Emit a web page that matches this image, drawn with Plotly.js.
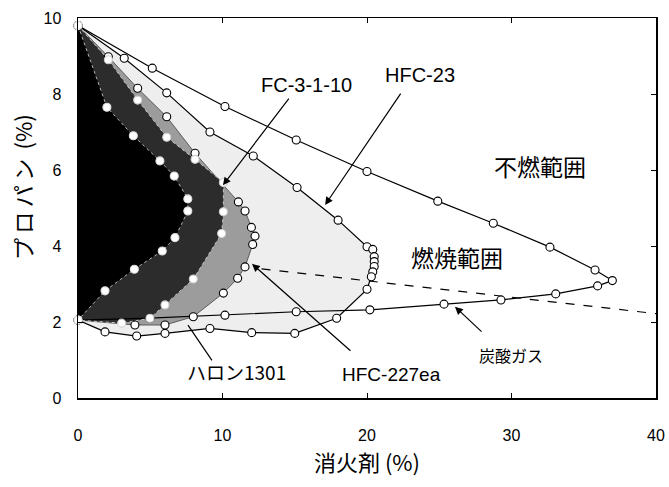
<!DOCTYPE html>
<html><head><meta charset="utf-8">
<script src="https://cdn.plot.ly/plotly-3.0.1.min.js"></script>
<style>body{margin:0;background:#fff}#c{width:669px;height:487px}</style>
</head><body><div id="c"></div>
<script>
// Envelopes: upper boundary from (0, 9.8) to the nose, lower boundary back to (0, 2.05)
const co2X = [0, 5.14, 10.17, 15.1, 20.0, 24.9, 28.74, 32.66, 35.78, 36.98, 35.96, 33.06, 29.27, 25.33, 20.2, 15.1, 10.17, 4.98, 0];
const co2Y = [9.8, 8.68, 7.67, 6.79, 5.96, 5.18, 4.6, 3.97, 3.37, 3.09, 2.95, 2.74, 2.58, 2.47, 2.32, 2.27, 2.18, 2.1, 2.05];

const hfc23X = [0, 3.2, 6.14, 9.13, 12.13, 15.16, 18.0, 20.0, 20.4, 20.5, 20.5, 20.5, 20.4, 20.3, 20.0, 17.9, 15.0, 12.02, 9.13, 6.02, 4.06, 1.87, 0];
const hfc23Y = [9.8, 8.94, 8.03, 7.0, 6.37, 5.54, 4.68, 3.98, 3.91, 3.72, 3.59, 3.46, 3.32, 3.19, 2.86, 2.1, 1.70, 1.72, 1.83, 1.70, 1.63, 1.74, 2.05];

const hfc227X = [0, 2.1, 4.13, 6.14, 8.1, 11.1, 11.56, 12.0, 12.25, 12.09, 11.56, 11.05, 10.06, 7.98, 6.02, 3.94, 0];
const hfc227Y = [9.8, 8.98, 8.15, 7.40, 6.44, 5.16, 4.92, 4.49, 4.26, 4.04, 3.45, 3.15, 2.76, 2.14, 1.92, 1.92, 2.05];

const fcX = [0, 2.1, 4.13, 6.14, 8.1, 10.06, 10.06, 9.94, 7.98, 6.02, 4.98, 3.02, 0];
const fcY = [9.8, 8.9, 7.84, 6.86, 6.28, 5.67, 4.9, 4.33, 3.13, 2.45, 2.1, 1.97, 2.05];

const halonX = [0, 2.0, 3.83, 5.67, 6.66, 7.6, 7.6, 6.71, 5.83, 3.9, 1.87, 0];
const halonY = [9.8, 7.65, 6.9, 6.24, 5.84, 5.24, 4.92, 4.22, 3.87, 3.39, 2.82, 2.05];

const dashX = [12.7, 40];
const dashY = [3.4, 2.22];

const xTicks = [0, 10, 20, 30, 40];
const yTicks = [0, 2, 4, 6, 8, 10];

const regionLabels = ['不燃範囲', '燃焼範囲'];
const agentNames = ['FC-3-1-10', 'HFC-23', 'HFC-227ea', '炭酸ガス', 'ハロン1301'];
const xTitle = '消火剤 (%)';
const yTitle = 'プ\u2009ロ\u2009パ\u2009ン\u2009 (%)';

const JP = '"Noto Sans CJK JP", "Liberation Sans", sans-serif';
const LAT = '"Liberation Sans", "Noto Sans", sans-serif';

function fillTrace(x, y, color) {
  return {x, y, type:'scatter', mode:'none', fill:'toself', fillcolor:color, hoverinfo:'skip'};
}
function lineTrace(x, y, lc, lw, mfill, mline, dash) {
  return {x, y, type:'scatter', mode:'lines+markers',
    line:{color:lc, width:lw, dash:dash||'solid'},
    marker:{symbol:'circle', size:8, color:mfill, line:{color:mline, width:1.1}}, cliponaxis:false};
}

const traces = [
  fillTrace(hfc23X, hfc23Y, '#eeeeee'),
  fillTrace(hfc227X, hfc227Y, '#9c9c9c'),
  fillTrace(fcX, fcY, '#2c2c2c'),
  fillTrace(halonX, halonY, '#000000'),
  {x:dashX, y:dashY, type:'scatter', mode:'lines', line:{color:'black', width:1.2, dash:'dash'}},
  lineTrace(co2X, co2Y, 'black', 1.2, 'white', 'black'),
  lineTrace(hfc23X, hfc23Y, 'black', 1.2, 'white', 'black'),
  lineTrace(hfc227X, hfc227Y, '#444', 0.8, 'white', 'black'),
  lineTrace(fcX, fcY, '#dddddd', 0.8, 'white', '#cccccc', 'dot'),
  lineTrace(halonX, halonY, '#dddddd', 0.8, 'white', '#dddddd', 'dot')
];

function arrowAnn(hx, hy, tx, ty, head) {
  return {x:hx, y:hy, ax:tx, ay:ty, axref:'x', ayref:'y', xref:'x', yref:'y',
    text:'', showarrow:true, arrowhead:head, arrowsize:1.3, arrowwidth:1.2, arrowcolor:'black', standoff:0};
}
function textAnn(x, y, text, size, fam) {
  return {x, y, xref:'x', yref:'y', text, showarrow:false, font:{size, color:'black', family:fam}};
}

const annotations = [
  arrowAnn(10.03, 5.6, 14.67, 7.92, 2),
  textAnn(15.8, 8.24, agentNames[0], 20, LAT),
  arrowAnn(17.1, 5.08, 22.4, 8.05, 2),
  textAnn(23.7, 8.5, agentNames[1], 20, LAT),
  arrowAnn(12.04, 3.53, 18.96, 1.21, 2),
  textAnn(21.7, 0.63, agentNames[2], 19, LAT),
  arrowAnn(26.09, 2.4, 28.03, 1.71, 2),
  textAnn(29.97, 1.13, agentNames[3], 16, JP),
  arrowAnn(7.61, 1.92, 9.34, 0.95, 0),
  textAnn(11.0, 0.71, agentNames[4], 19, JP),
  textAnn(32.0, 6.1, regionLabels[0], 23, JP),
  textAnn(26.2, 3.7, regionLabels[1], 23, JP),
  {xref:'paper', yref:'paper', x:-0.097, y:0.555, xanchor:'center', yanchor:'middle', text:yTitle, textangle:-90, showarrow:false,
   font:{size:22, family:JP, color:'black'}}
];

const layout = {
  width:669, height:487,
  margin:{l:78, r:13, t:18, b:89},
  paper_bgcolor:'white', plot_bgcolor:'white',
  showlegend:false,
  xaxis:{range:[0,40], tickvals:xTicks, ticktext:xTicks.map(String), ticks:'inside', ticklen:5, tickcolor:'black',
    showline:true, mirror:'ticks', linecolor:'black', linewidth:1.5, showgrid:false, zeroline:false,
    tickfont:{size:16, family:LAT, color:'black'}, ticklabelstandoff:22,
    title:{text:xTitle, font:{size:22, family:JP, color:'black'}, standoff:13}},
  yaxis:{range:[0,10], tickvals:yTicks, ticktext:yTicks.map(String), ticks:'inside', ticklen:5, tickcolor:'black',
    showline:true, mirror:'ticks', linecolor:'black', linewidth:1.5, showgrid:false, zeroline:false,
    tickfont:{size:16, family:LAT, color:'black'}, ticklabelstandoff:12},
  annotations
};

Plotly.newPlot('c', traces, layout, {displayModeBar:false, staticPlot:true});
</script>
</body></html>
